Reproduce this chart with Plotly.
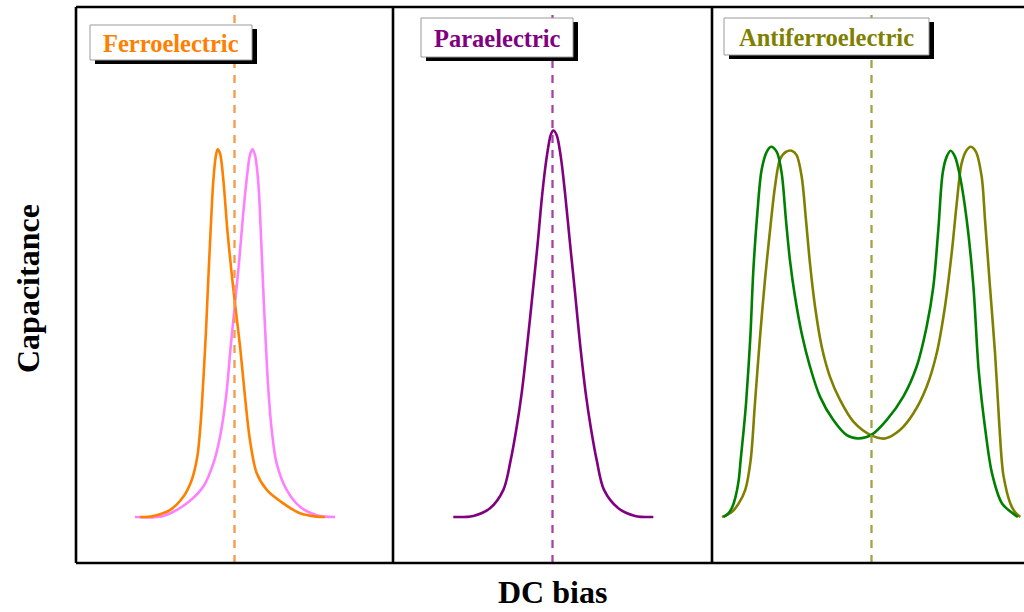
import plotly.graph_objects as go

# ---------------------------------------------------------------------------
# C–V curves (bias in arbitrary units, capacitance in a.u.)
# ---------------------------------------------------------------------------

# Ferroelectric: two sweep directions give the shifted "butterfly" peaks
fe_bias_fwd = [-5.94, -5.11, -4.06, -3.22, -2.69, -2.34, -2.13, -1.96, -1.79, -1.65,
               -1.50, -1.33, -1.18, -1.06, -0.91, -0.70, -0.45, -0.18, 0.03, 0.35,
               0.66, 0.97, 1.40, 2.03, 3.07, 4.12, 5.17, 5.69]
fe_cap_fwd = [0, 0.3, 1.9, 5.5, 10.1, 16.4, 25.5, 37.3, 51.0, 64.6,
              78.2, 91.8, 98.2, 100.2, 99.1, 91.8, 78.2, 66.4, 58.2, 46.4,
              32.8, 21.0, 11.9, 7.4, 3.7, 1.0, 0.1, 0]

fe_bias_rev = [-6.26, -4.48, -3.01, -1.96, -1.33, -0.91, -0.53, -0.24, 0.03, 0.28,
               0.55, 0.81, 0.97, 1.12, 1.29, 1.50, 1.65, 1.81, 1.98, 2.13,
               2.34, 2.65, 3.28, 4.12, 5.17, 6.32]
fe_cap_rev = [0, 0.3, 3.7, 8.3, 14.6, 21.9, 32.8, 46.4, 58.2, 69.1,
              82.8, 93.7, 98.6, 100.2, 98.6, 90.9, 78.2, 61.8, 46.4, 34.6,
              23.7, 14.6, 7.4, 2.8, 0.5, 0]

# Paraelectric: single peak at zero bias
pe_bias = [-6.24, -4.98, -3.93, -3.09, -2.63, -2.25, -1.94, -1.58, -1.25, -0.93,
           -0.64, -0.36, -0.11, 0.05, 0.26, 0.52, 0.79, 1.10, 1.42, 1.73,
           2.09, 2.40, 2.78, 3.24, 4.14, 5.19, 6.34]
pe_cap = [0, 0.3, 2.4, 7.4, 15.5, 24.6, 33.7, 47.3, 61.0, 74.6,
          88.2, 98.2, 104.1, 105.3, 104.1, 98.2, 88.2, 74.6, 61.0, 47.3,
          33.7, 24.6, 15.5, 7.4, 2.4, 0.3, 0]

# Antiferroelectric: double peaks for each sweep direction
afe_bias_fwd = [-9.30, -9.00, -8.77, -8.55, -8.35, -8.23, -8.04, -7.89, -7.62, -7.43,
                -7.18, -6.91, -6.59, -6.32, -5.96, -5.65, -5.38, -5.13, -4.81, -4.39,
                -3.87, -3.24, -2.40, -1.56, -0.83, -0.03, 0.95, 2.00, 2.84, 3.47,
                3.89, 4.20, 4.48, 4.73, 4.98, 5.25, 5.57, 5.99, 6.41, 6.74,
                7.16, 7.58, 8.21, 9.04, 9.21]
afe_cap_fwd = [0, 1.0, 2.6, 5.5, 10.1, 15.5, 23.7, 31.0, 49.1, 67.3,
               82.8, 94.6, 99.5, 100.9, 99.5, 93.7, 80.9, 70.0, 60.0, 50.0,
               41.0, 32.8, 26.4, 22.3, 21.4, 22.3, 26.4, 32.8, 41.0, 51.9,
               62.8, 78.2, 93.8, 98.2, 99.8, 98.2, 92.7, 80.9, 62.8, 40.0,
               23.7, 11.9, 3.7, 0.5, 0]

afe_bias_rev = [-9.40, -9.00, -8.77, -8.35, -7.94, -7.60, -7.33, -7.01, -6.70, -6.38,
                -6.07, -5.75, -5.38, -5.02, -4.71, -4.39, -4.12, -3.87, -3.55, -3.13,
                -2.61, -1.98, -1.14, -0.03, 0.85, 1.79, 2.63, 3.47, 4.10, 4.62,
                5.04, 5.36, 5.67, 5.99, 6.24, 6.57, 6.93, 7.14, 7.45, 7.77,
                8.02, 8.19, 8.31, 8.73, 9.05, 9.36]
afe_cap_rev = [0, 0.8, 1.4, 3.7, 7.4, 15.5, 31.0, 49.1, 64.6, 78.2,
               90.0, 97.5, 99.5, 99.8, 98.6, 92.7, 80.9, 69.1, 57.3, 46.4,
               38.2, 31.9, 26.0, 22.3, 21.4, 23.7, 28.2, 35.5, 44.6, 57.3,
               71.8, 85.4, 96.4, 100.0, 100.9, 99.5, 92.7, 80.9, 62.8, 44.6,
               26.4, 15.5, 11.0, 3.7, 1.2, 0]

panel_titles = ["Ferroelectric", "Paraelectric", "Antiferroelectric"]
x_title = "DC bias"
y_title = "Capacitance"

# ---------------------------------------------------------------------------
# Layout geometry (pixels)
# ---------------------------------------------------------------------------
W, H = 1024, 612
FRAME_TOP, FRAME_BOTTOM = 7, 563
PANEL_EDGES = [(76, 393), (393, 712), (712, 1024)]
PANEL_CENTERS = [234.5, 552.5, 871.5]
PX_PER_BIAS = 15.9
BASELINE_PX = 517
PX_PER_CAP = 3.67

ORANGE, PINK = "#FF8000", "#FF80FF"
PURPLE = "#800080"
GREEN, OLIVE = "#008000", "#808000"
SERIF = "Liberation Serif"


def px(x):
    return x / W


def py(y):
    return 1 - y / H


fig = go.Figure()

curves = [
    (1, fe_bias_rev, fe_cap_rev, PINK),
    (1, fe_bias_fwd, fe_cap_fwd, ORANGE),
    (2, pe_bias, pe_cap, PURPLE),
    (3, afe_bias_rev, afe_cap_rev, OLIVE),
    (3, afe_bias_fwd, afe_cap_fwd, GREEN),
]
for panel, xs, ys, color in curves:
    suffix = "" if panel == 1 else str(panel)
    fig.add_trace(go.Scatter(
        x=xs, y=ys, mode="lines",
        line=dict(color=color, width=2.6, shape="spline", smoothing=0.9),
        xaxis="x" + suffix, yaxis="y" + suffix,
        showlegend=False, hoverinfo="skip",
    ))

y_range = [(BASELINE_PX - FRAME_BOTTOM) / PX_PER_CAP, (BASELINE_PX - FRAME_TOP) / PX_PER_CAP]
axis_common = dict(visible=False, showgrid=False, zeroline=False, fixedrange=True)
layout_axes = {}
for i, ((left, right), center) in enumerate(zip(PANEL_EDGES, PANEL_CENTERS), start=1):
    suffix = "" if i == 1 else str(i)
    layout_axes["xaxis" + suffix] = dict(
        domain=[px(left), px(right)],
        range=[(left - center) / PX_PER_BIAS, (right - center) / PX_PER_BIAS],
        anchor="y" + suffix, **axis_common)
    layout_axes["yaxis" + suffix] = dict(
        domain=[py(FRAME_BOTTOM), py(FRAME_TOP)],
        range=y_range, anchor="x" + suffix, **axis_common)

shapes = []
# zero-bias reference lines
dash_colors = ["#F59A45", "#A642A6", "#A3A346"]
for i, color in enumerate(dash_colors, start=1):
    suffix = "" if i == 1 else str(i)
    shapes.append(dict(
        type="line", xref="x" + suffix, yref="y" + suffix + " domain",
        x0=0, x1=0, y0=0, y1=1,
        line=dict(color=color, width=2.3, dash="8px,7px"),
    ))

# title boxes with drop shadows
label_boxes = [(90, 25, 252, 60), (421, 18, 573, 57), (724, 18, 929, 55)]
label_colors = [ORANGE, PURPLE, OLIVE]
annotations = []
for (x0, y0, x1, y1), text, color in zip(label_boxes, panel_titles, label_colors):
    shapes.append(dict(type="rect", xref="paper", yref="paper",
                       x0=px(x0 + 5), x1=px(x1 + 5), y0=py(y1 + 4), y1=py(y0 + 4),
                       fillcolor="black", line=dict(width=0)))
    shapes.append(dict(type="rect", xref="paper", yref="paper",
                       x0=px(x0), x1=px(x1), y0=py(y1), y1=py(y0),
                       fillcolor="white", line=dict(color="#9a9a9a", width=1)))
    annotations.append(dict(
        text=f"<b>{text}</b>", xref="paper", yref="paper",
        x=px((x0 + x1) / 2), y=py((y0 + y1) / 2 + 1),
        xanchor="center", yanchor="middle", showarrow=False,
        font=dict(family=SERIF, size=24.5, color=color),
    ))

# panel frame
frame = dict(color="black", width=2.6)
shapes.append(dict(type="line", xref="paper", yref="paper",
                   x0=px(PANEL_EDGES[0][0]), x1=1, y0=py(FRAME_TOP), y1=py(FRAME_TOP), line=frame))
shapes.append(dict(type="line", xref="paper", yref="paper",
                   x0=px(PANEL_EDGES[0][0]), x1=1, y0=py(FRAME_BOTTOM), y1=py(FRAME_BOTTOM), line=frame))
for xv in (PANEL_EDGES[0][0], PANEL_EDGES[1][0], PANEL_EDGES[2][0]):
    shapes.append(dict(type="line", xref="paper", yref="paper",
                       x0=px(xv), x1=px(xv), y0=py(FRAME_TOP), y1=py(FRAME_BOTTOM), line=frame))

# axis titles
annotations.append(dict(
    text=f"<b>{x_title}</b>", xref="paper", yref="paper",
    x=px(PANEL_CENTERS[1]), y=py(592), xanchor="center", yanchor="middle",
    showarrow=False, font=dict(family=SERIF, size=32, color="black"),
))
annotations.append(dict(
    text=f"<b>{y_title}</b>", xref="paper", yref="paper",
    x=px(28), y=py(289), xanchor="center", yanchor="middle", textangle=-90,
    showarrow=False, font=dict(family=SERIF, size=32, color="black"),
))

fig.update_layout(
    width=W, height=H, autosize=False,
    margin=dict(l=0, r=0, t=0, b=0, pad=0),
    paper_bgcolor="white", plot_bgcolor="rgba(0,0,0,0)",
    shapes=shapes, annotations=annotations,
    **layout_axes,
)

fig.write_html("out.html", config={"displayModeBar": False})
